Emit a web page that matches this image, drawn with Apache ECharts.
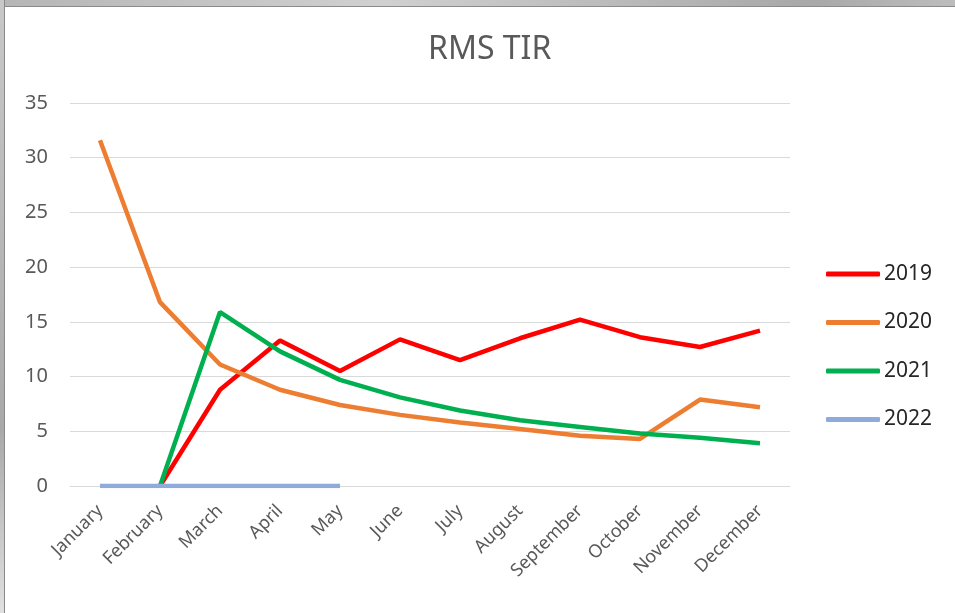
<!DOCTYPE html>
<html>
<head>
<meta charset="utf-8">
<script src="https://cdn.jsdelivr.net/npm/echarts@6/dist/echarts.min.js"></script>
<style>
  html, body { margin: 0; padding: 0; background: #fff; overflow: hidden; }
  #topStrip { position: absolute; left: 0; top: 0; width: 955px; height: 6px;
    background: linear-gradient(to right, #b5b5b5, #d0d0d0 40%, #a8a8a8 85%, #bdbdbd); border-bottom: 1px solid #8a8a8a; }
  #leftStrip { position: absolute; left: 0; top: 0; width: 4px; height: 613px;
    background: linear-gradient(to bottom, #c8c8c8, #a9a9a9 70%, #e0e0e0); border-right: 1px solid #8a8a8a; }
  #rmsChart { position: absolute; left: 0; top: 0; width: 955px; height: 613px; }
</style>
</head>
<body>
<div id="topStrip"></div>
<div id="leftStrip"></div>
<div id="rmsChart"></div>
<script>
    // 月份
    const months = ['January', 'February', 'March', 'April', 'May', 'June',
        'July', 'August', 'September', 'October', 'November', 'December'];
    const yTicks = [0, 5, 10, 15, 20, 25, 30, 35];

    // 各年数据
    const data2019 = [null, 0, 8.8, 13.3, 10.5, 13.4, 11.5, 13.5, 15.2, 13.6, 12.7, 14.2];
    const data2020 = [31.6, 16.8, 11.1, 8.8, 7.4, 6.5, 5.8, 5.2, 4.6, 4.3, 7.9, 7.2];
    const data2021 = [null, 0, 15.9, 12.3, 9.7, 8.1, 6.9, 6.0, 5.4, 4.8, 4.4, 3.9];
    const data2022 = [0, 0, 0, 0, 0, null, null, null, null, null, null, null];

    let rmsChart = echarts.init(document.getElementById('rmsChart'));

    function lineSeries(name, data, color) {
        return {
            name: name,
            type: 'line',
            data: data,
            showSymbol: false,
            symbol: 'none',
            lineStyle: { width: 4.5, color: color },
            itemStyle: { color: color },
            emphasis: { disabled: true }
        };
    }

    let rmsOptions = {
        animation: false,
        textStyle: { fontFamily: 'Noto Sans, sans-serif' },
        title: {
            text: 'RMS TIR',
            left: 423,
            top: 29,
            textStyle: { fontSize: 32, fontWeight: 'normal', color: '#595959' }
        },
        legend: {
            orient: 'vertical',
            left: 821,
            top: 258,
            itemWidth: 54,
            itemHeight: 5,
            itemGap: 26.5,
            icon: 'roundRect',
            textStyle: { fontSize: 21, color: '#262626', lineHeight: 22, padding: [0, 0, 0, -1] },
            data: ['2019', '2020', '2021', '2022']
        },
        grid: { left: 70, right: 165, top: 103, bottom: 127 },
        xAxis: {
            type: 'category',
            data: months,
            boundaryGap: true,
            axisLine: { lineStyle: { color: '#d9d9d9', width: 1 } },
            axisTick: { show: false },
            axisLabel: { rotate: 45, fontSize: 18, color: '#595959', margin: 22, interval: 0 }
        },
        yAxis: {
            type: 'value',
            min: yTicks[0],
            max: yTicks[yTicks.length - 1],
            interval: 5,
            axisLine: { show: false },
            axisTick: { show: false },
            axisLabel: { fontSize: 20, color: '#595959', margin: 22 },
            splitLine: { lineStyle: { color: '#d9d9d9', width: 1 } }
        },
        series: [
            lineSeries('2019', data2019, '#ff0000'),
            lineSeries('2020', data2020, '#ed7d31'),
            lineSeries('2021', data2021, '#00b050'),
            lineSeries('2022', data2022, '#8faadc')
        ]
    };

    rmsChart.setOption(rmsOptions);
</script>
</body>
</html>
